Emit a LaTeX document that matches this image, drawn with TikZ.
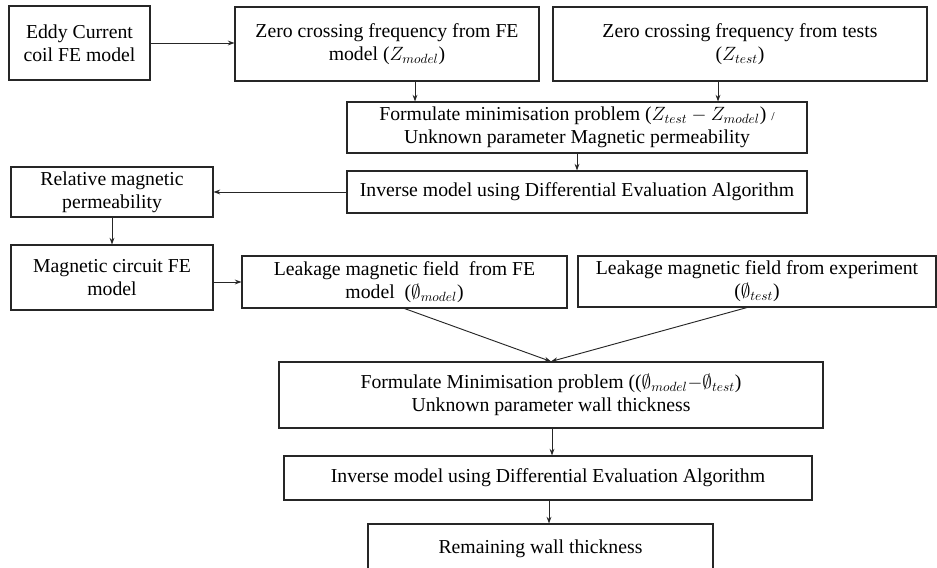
\documentclass[tikz,border=0pt]{standalone}
\usepackage{fontspec}
\setmainfont{Liberation Serif}
\usetikzlibrary{arrows.meta}
\begin{document}
\begin{tikzpicture}[x=0.75pt,y=-0.75pt,
  box/.style={draw=black!85, line width=0.8pt, align=center, inner sep=0pt,
    font=\fontsize{14.8}{17.4}\selectfont},
  arr/.style={draw=black!85, line width=0.7pt, -{Stealth[length=5pt,width=3.6pt]}}]
\useasboundingbox (0,0) rectangle (937,567);

% first stage: coil model and zero crossing frequencies
\node[box, minimum width=141*0.75pt, minimum height=74*0.75pt] (eddy) at (79.5,43)
  {Eddy Current\\coil FE model};
\node[box, minimum width=304*0.75pt, minimum height=74*0.75pt] (zmod) at (387,44)
  {Zero crossing frequency from FE\\model ($Z_{model}$)};
\node[box, minimum width=374*0.75pt, minimum height=74*0.75pt] (ztst) at (740,44)
  {Zero crossing frequency from tests\\($Z_{test}$)};
\node[box, minimum width=460*0.75pt, minimum height=51*0.75pt] (form1) at (577,127.5)
  {Formulate minimisation problem ($Z_{test}-Z_{model}$) {\small/}\\Unknown parameter Magnetic permeability};
\node[box, minimum width=460*0.75pt, minimum height=42*0.75pt] (inv1) at (577,192)
  {Inverse model using Differential Evaluation Algorithm};
\node[box, minimum width=202*0.75pt, minimum height=50*0.75pt] (perm) at (112,192)
  {Relative magnetic\\permeability};

% second stage: magnetic circuit and leakage field
\node[box, minimum width=202*0.75pt, minimum height=65*0.75pt] (circ) at (112,277.5)
  {Magnetic circuit FE\\model};
\node[box, minimum width=325*0.75pt, minimum height=52*0.75pt] (lmod) at (404.5,282)
  {Leakage magnetic field\ \ from FE\\model\ \ ($\emptyset_{model}$)};
\node[box, minimum width=358*0.75pt, minimum height=51*0.75pt] (lexp) at (757,281.5)
  {Leakage magnetic field from experiment\\($\emptyset_{test}$)};
\node[box, minimum width=544*0.75pt, minimum height=66*0.75pt] (form2) at (551,395)
  {Formulate Minimisation problem (($\emptyset_{model}{-}\emptyset_{test}$)\\Unknown parameter wall thickness};
\node[box, minimum width=528*0.75pt, minimum height=44*0.75pt] (inv2) at (548,478)
  {Inverse model using Differential Evaluation Algorithm};
\node[box, minimum width=345*0.75pt, minimum height=50*0.75pt] (wall) at (540.5,549)
  {Remaining wall thickness};

% x positions of the vertical connectors
\coordinate (xa) at (415,0);
\coordinate (xb) at (718,0);
\coordinate (xc) at (747,0);
\coordinate (xd) at (552,0);
\coordinate (xe) at (549,0);

\draw[arr] (eddy.east) -- (eddy.east -| zmod.west);
\draw[arr] (zmod.south -| xa) -- (form1.north -| xa);
\draw[arr] (ztst.south -| xb) -- (form1.north -| xb);
\draw[arr] (form1.south) -- (inv1.north);
\draw[arr] (inv1.west) -- (perm.east);
\draw[arr] (perm.south) -- (circ.north);
\draw[arr] (lmod.west -| circ.east) -- (lmod.west);
\draw[arr] (lmod.south) -- (form2.north);
\draw[arr] (lexp.south -| xc) -- (form2.north);
\draw[arr] (form2.south -| xd) -- (inv2.north -| xd);
\draw[arr] (inv2.south -| xe) -- (wall.north -| xe);
\end{tikzpicture}
\end{document}
